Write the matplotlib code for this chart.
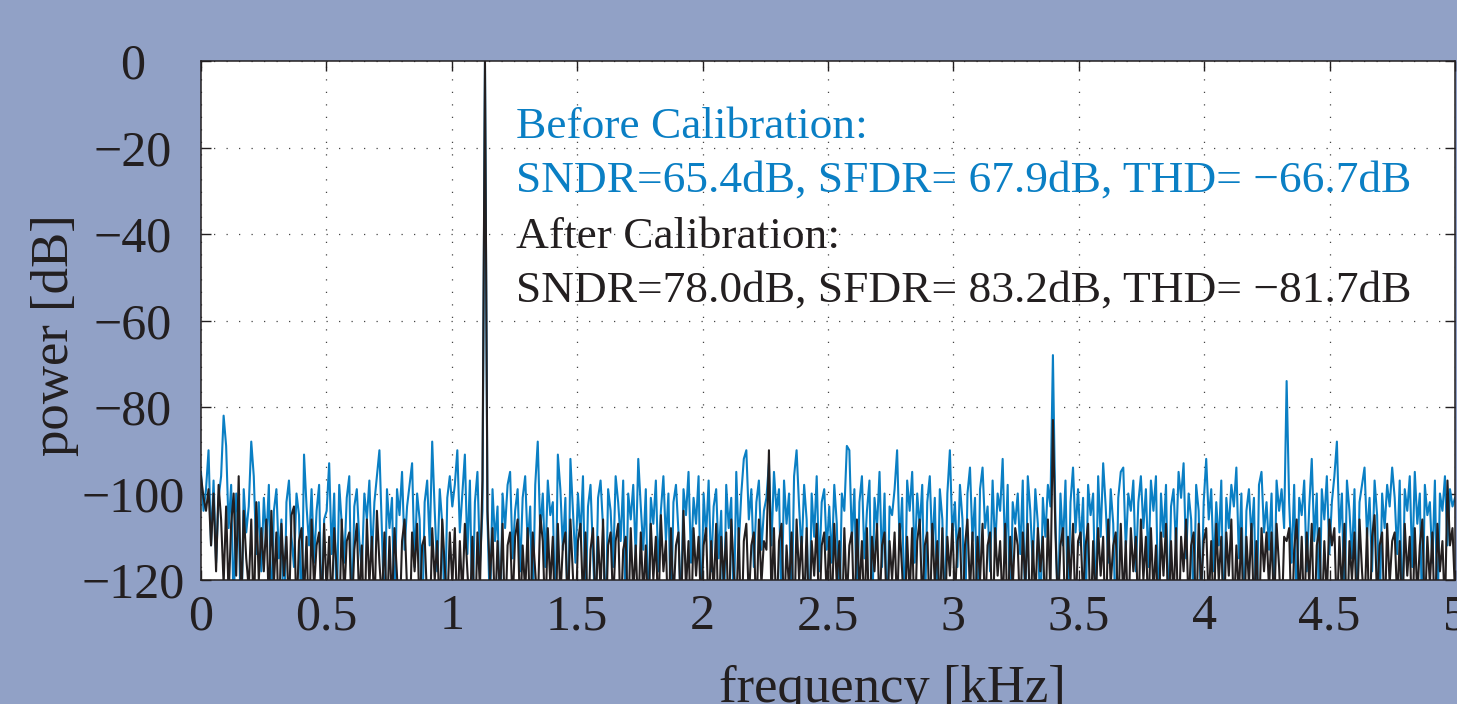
import numpy as np
import matplotlib
matplotlib.use("Agg")
import matplotlib.pyplot as plt

# spectrum values [dB] (500 bins from 0 to 5 kHz)
before_db = [
    -95, -104, -99, -90, -112, -97, -116, -101, -96, -82, -89, -108, -98, -128, -100, -106, -133, -99, -109, -103, -88, -96, -114, -102, -118,
    -101, -111, -98, -130, -104, -99, -115, -106, -134, -102, -97, -110, -117, -100, -105, -131, -91, -103, -112, -99, -116, -104, -98, -129, -106,
    -104, -93, -114, -100, -128, -98, -107, -116, -101, -96, -130, -103, -99, -111, -118, -100, -106, -97, -115, -102, -96, -90, -109, -130, -99,
    -108, -101, -129, -99, -105, -95, -113, -103, -98, -93, -117, -100, -106, -132, -102, -97, -112, -88, -104, -118, -99, -107, -131, -101, -96,
    -103, -98, -90, -109, -100, -91, -114, -97, -130, -102, -95, -116, -104, 0, -106, -128, -99, -111, -103, -133, -100, -108, -98, -95, -115,
    -104, -99, -118, -101, -96, -112, -103, -129, -98, -88, -109, -100, -117, -97, -105, -102, -131, -91, -99, -113, -101, -134, -92, -104, -116,
    -100, -110, -96, -128, -103, -98, -114, -129, -101, -97, -108, -132, -99, -104, -117, -96, -102, -111, -97, -130, -100, -106, -98, -115, -92,
    -103, -113, -99, -131, -101, -107, -97, -118, -104, -96, -111, -100, -130, -102, -98, -109, -128, -99, -105, -95, -116, -101, -107, -96, -130,
    -100, -110, -97, -118, -103, -99, -115, -104, -133, -98, -108, -101, -130, -95, -112, -100, -92, -90, -106, -99, -117, -102, -97, -113, -104,
    -101, -93, -112, -95, -104, -99, -128, -97, -107, -100, -129, -96, -90, -103, -114, -98, -106, -134, -100, -110, -96, -118, -102, -99, -113,
    -103, -116, -98, -107, -131, -100, -104, -89, -90, -111, -99, -128, -102, -96, -115, -104, -97, -133, -101, -108, -95, -117, -100, -132, -103,
    -105, -99, -90, -112, -101, -130, -97, -104, -95, -116, -100, -108, -98, -130, -102, -96, -113, -101, -128, -99, -106, -129, -100, -90, -110,
    -102, -117, -98, -106, -131, -100, -94, -111, -101, -134, -99, -94, -108, -103, -118, -97, -113, -100, -104, -92, -115, -98, -133, -102, -107,
    -100, -114, -97, -130, -96, -104, -117, -99, -107, -130, -101, -110, -98, -103, -68, -106, -128, -100, -112, -97, -129, -102, -94, -109, -99,
    -112, -101, -129, -98, -105, -100, -128, -96, -110, -93, -103, -116, -99, -107, -132, -101, -95, -94, -113, -100, -104, -97, -118, -102, -96,
    -108, -99, -117, -97, -104, -96, -131, -100, -110, -98, -130, -103, -99, -113, -95, -101, -93, -115, -100, -106, -129, -98, -104, -128, -102,
    -92, -106, -99, -118, -102, -112, -97, -133, -101, -108, -98, -103, -94, -115, -100, -130, -104, -99, -110, -101, -134, -98, -95, -109, -102,
    -113, -100, -128, -97, -104, -99, -108, -74, -102, -116, -98, -129, -101, -105, -97, -118, -103, -92, -111, -100, -131, -99, -106, -96, -114,
    -102, -96, -88, -109, -100, -128, -97, -104, -115, -99, -130, -102, -98, -94, -110, -101, -118, -97, -105, -129, -100, -108, -98, -103, -94,
    -101, -114, -97, -131, -99, -104, -96, -117, -95, -107, -100, -133, -98, -105, -102, -116, -97, -130, -100, -104, -96, -112, -99, -103, -101,
]

after_db = [
    -96, -101, -104, -99, -112, -100, -118, -98, -106, -121, -103, -124, -107, -100, -119, -96, -127, -104, -115, -122, -106, -130, -102, -120, -108,
    -118, -106, -126, -104, -121, -109, -132, -107, -119, -110, -128, -105, -103, -129, -111, -108, -124, -110, -133, -106, -122, -112, -109, -128, -107,
    -123, -110, -127, -108, -118, -131, -106, -124, -111, -109, -129, -113, -107, -126, -112, -134, -106, -121, -110, -128, -104, -116, -125, -109, -130,
    -110, -126, -108, -119, -131, -111, -106, -122, -133, -109, -118, -107, -128, -112, -110, -125, -132, -108, -120, -111, -129, -106, -117, -127, -109,
    -121, -108, -130, -111, -124, -107, -118, -128, -110, -134, -109, -122, -97, 0, -104, -120, -108, -129, -111, -124, -107, -131, -112, -109, -126,
    -110, -106, -129, -112, -123, -108, -132, -109, -118, -127, -105, -111, -130, -108, -121, -110, -135, -107, -124, -112, -109, -128, -106, -119, -131,
    -111, -107, -125, -109, -132, -113, -108, -128, -110, -122, -106, -133, -112, -109, -126, -111, -107, -130, -113, -110, -131, -108, -123, -112, -129,
    -109, -124, -112, -131, -107, -120, -110, -129, -105, -118, -111, -134, -108, -125, -112, -109, -130, -104, -122, -111, -132, -108, -119, -110, -127,
    -112, -108, -129, -111, -123, -107, -133, -110, -120, -109, -131, -106, -118, -127, -108, -135, -111, -107, -125, -112, -109, -130, -106, -121, -111,
    -113, -90, -125, -108, -131, -111, -107, -129, -112, -122, -109, -133, -106, -120, -110, -127, -108, -132, -111, -119, -107, -130, -112, -109, -124,
    -110, -128, -107, -121, -111, -133, -108, -125, -112, -109, -131, -106, -123, -111, -129, -108, -134, -110, -118, -107, -127, -112, -109, -132, -111,
    -120, -109, -127, -107, -118, -131, -110, -124, -108, -133, -111, -106, -126, -112, -109, -130, -107, -121, -111, -128, -108, -132, -110, -119, -107,
    -125, -111, -108, -130, -112, -106, -123, -109, -132, -110, -120, -107, -128, -112, -109, -134, -108, -119, -111, -127, -107, -131, -110, -122, -108,
    -112, -129, -109, -121, -107, -132, -111, -125, -108, -118, -110, -130, -106, -123, -83, -109, -127, -112, -108, -133, -110, -120, -107, -128, -111,
    -109, -124, -112, -107, -131, -111, -127, -108, -119, -110, -134, -106, -121, -112, -109, -129, -107, -125, -111, -132, -108, -118, -110, -130, -106,
    -120, -110, -129, -108, -123, -112, -133, -109, -119, -107, -130, -111, -125, -108, -134, -110, -118, -106, -127, -112, -109, -131, -107, -122, -111,
    -108, -126, -111, -130, -107, -120, -110, -132, -109, -119, -106, -129, -112, -124, -108, -134, -110, -121, -107, -128, -111, -131, -108, -118, -109,
    -122, -109, -128, -107, -117, -131, -110, -111, -108, -133, -113, -106, -126, -110, -129, -109, -121, -107, -132, -112, -108, -130, -111, -124, -106,
    -112, -108, -129, -110, -123, -107, -134, -111, -120, -109, -130, -106, -118, -127, -108, -132, -110, -105, -125, -112, -109, -131, -107, -121, -111,
    -109, -125, -111, -130, -107, -119, -110, -133, -108, -124, -112, -106, -129, -110, -121, -109, -132, -107, -118, -111, -128, -97, -112, -108, -123,
]

x_ticks = [0, 0.5, 1, 1.5, 2, 2.5, 3, 3.5, 4, 4.5, 5]
x_tick_labels = ["0", "0.5", "1", "1.5", "2", "2.5", "3", "3.5", "4", "4.5", "5"]
y_ticks = [-120, -100, -80, -60, -40, -20, 0]

before_text = ["Before Calibration:", "SNDR=65.4dB, SFDR= 67.9dB, THD= \u221266.7dB"]
after_text = ["After Calibration:", "SNDR=78.0dB, SFDR= 83.2dB, THD= \u221281.7dB"]

freq = np.linspace(0, 5, len(before_db))

bg = "#91a1c6"
blue = "#0a7fc4"
black = "#231f20"

plt.rcParams["font.family"] = ["Liberation Serif", "DejaVu Serif"]
plt.rcParams["font.size"] = 33

W, H = 1457, 704
fig = plt.figure(figsize=(W / 100, H / 100), dpi=100, facecolor=bg)
ax = fig.add_axes([201 / W, 1 - 580 / H, 1254 / W, 519 / H])
ax.set_facecolor("white")

ax.plot(freq, before_db, color=blue, lw=1.5)
ax.plot(freq, after_db, color=black, lw=1.5)

ax.set_xlim(0, 5)
ax.set_ylim(-120, 0)
ax.set_xticks(x_ticks)
ax.set_xticklabels(x_tick_labels)
ax.set_yticks(y_ticks)
ax.set_axisbelow(True)
ax.grid(True, linestyle=(0, (1, 9)), color="#444444", linewidth=0.9)

for s in ax.spines.values():
    s.set_linewidth(1.1)
    s.set_color(black)

ax.tick_params(axis="both", direction="in", length=7, width=1.0, top=True, right=True,
               colors=black, labelsize=36)
ax.tick_params(axis="x", pad=10)
ax.tick_params(axis="y", pad=49)
for lab in ax.get_yticklabels():
    lab.set_horizontalalignment("center")

# labels, placed like in the original
fig.text(55 / W, 1 - 335 / H, "power [dB]", rotation=90, ha="center", va="center",
         fontsize=38, color=black)
fig.text(892 / W, 1 - 702 / H, "frequency [kHz]", ha="center", va="baseline",
         fontsize=38, color=black)

# annotation
fs_note = 32.7
fig.text(516 / W, 1 - 138 / H, before_text[0], color=blue, fontsize=fs_note, va="baseline")
fig.text(516 / W, 1 - 192 / H, before_text[1], color=blue, fontsize=fs_note, va="baseline")
fig.text(516 / W, 1 - 248 / H, after_text[0], color=black, fontsize=fs_note, va="baseline")
fig.text(516 / W, 1 - 302 / H, after_text[1], color=black, fontsize=fs_note, va="baseline")

fig.savefig("out.png", dpi=100, facecolor=bg)
